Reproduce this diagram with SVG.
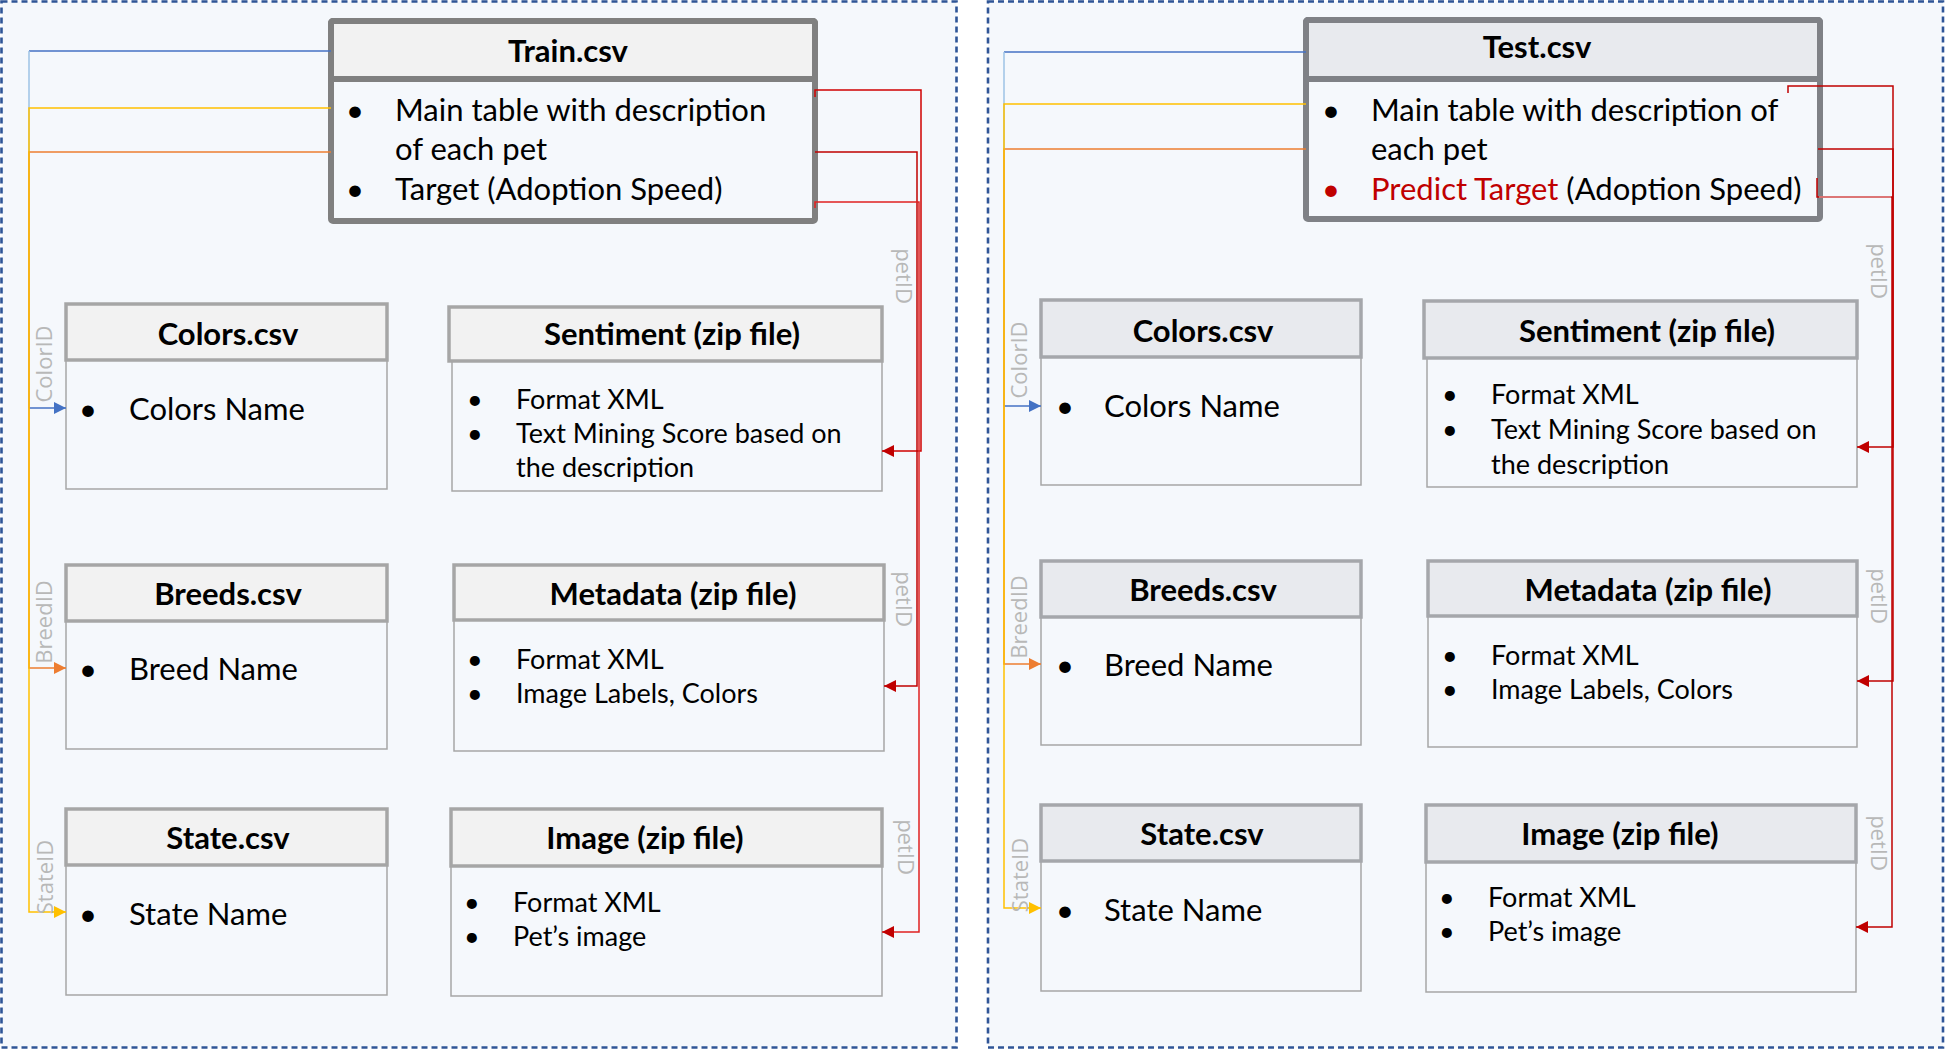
<svg xmlns="http://www.w3.org/2000/svg" width="1946" height="1050" viewBox="0 0 1946 1050">
<style>
.panel{fill:#f5f8fc;stroke:#2f5597;stroke-width:2.6;stroke-dasharray:6 4}
.bigL{fill:#f5f8fc;stroke:#808080;stroke-width:6}
.bigR{fill:#f5f8fc;stroke:#7f8186;stroke-width:6}
.hdL{fill:#f2f2f2;stroke:#808080;stroke-width:6}
.hdR{fill:#e8eaee;stroke:#7f8186;stroke-width:6}
.nb{fill:#f5f8fc;stroke:#a6a6a6;stroke-width:1.5}
.nhL{fill:#f2f2f2;stroke:#a6a6a6;stroke-width:3.5}
.nhR{fill:#e8eaee;stroke:#a5a7ab;stroke-width:3.5}
text{font-family:Lato,"Open Sans","Liberation Sans",sans-serif;fill:#000}
.ti{font-weight:bold;font-size:31px;text-anchor:middle}
.b{font-size:31px}
.s{font-size:27px}
.red{fill:#c00000}
.lab{font-family:"Open Sans","DejaVu Sans",sans-serif;font-size:22px;fill:#b8b8b8;text-anchor:middle}
.c{fill:none;stroke-width:1.5}
</style>
<defs>
<marker id="aB" markerUnits="userSpaceOnUse" markerWidth="13" markerHeight="13" refX="12" refY="6" orient="auto"><path d="M0,0 L12,6 L0,12 z" fill="#4472c4"/></marker>
<marker id="aO" markerUnits="userSpaceOnUse" markerWidth="13" markerHeight="13" refX="12" refY="6" orient="auto"><path d="M0,0 L12,6 L0,12 z" fill="#ed7d31"/></marker>
<marker id="aY" markerUnits="userSpaceOnUse" markerWidth="13" markerHeight="13" refX="12" refY="6" orient="auto"><path d="M0,0 L12,6 L0,12 z" fill="#ffc000"/></marker>
<marker id="aR" markerUnits="userSpaceOnUse" markerWidth="13" markerHeight="13" refX="12" refY="6" orient="auto"><path d="M0,0 L12,6 L0,12 z" fill="#c00000"/></marker>
</defs>

<rect class="panel" x="1.5" y="1.5" width="955" height="1046"/>
<rect class="panel" x="988" y="1.5" width="955" height="1046"/>

<!-- LEFT PANEL NODES -->
<g id="train">
<rect class="bigL" x="331" y="21" width="484" height="200" rx="2"/>
<rect class="hdL" x="331" y="21" width="484" height="58" rx="2"/>
<text class="ti" x="568" y="62">Train.csv</text>
<text class="b" x="346" y="121">•</text><text class="b" x="395" y="121">Main table with description</text>
<text class="b" x="395" y="160">of each pet</text>
<text class="b" x="346" y="200">•</text><text class="b" x="395" y="200">Target (Adoption Speed)</text>
</g>
<g id="colors-l">
<rect class="nb" x="66" y="304" width="321" height="185"/>
<rect class="nhL" x="66" y="304" width="321" height="56"/>
<text class="ti" x="228" y="345">Colors.csv</text>
<text class="b" x="79" y="420">•</text><text class="b" x="129" y="420">Colors Name</text>
</g>
<g id="sentiment-l">
<rect class="nb" x="452" y="361" width="430" height="130"/>
<rect class="nhL" x="449" y="307" width="433" height="54"/>
<text class="ti" x="672" y="345">Sentiment (zip file)</text>
<text class="s" x="467" y="409">•</text><text class="s" x="516" y="409">Format XML</text>
<text class="s" x="467" y="443">•</text><text class="s" x="516" y="443">Text Mining Score based on</text>
<text class="s" x="516" y="477">the description</text>
</g>
<g id="breeds-l">
<rect class="nb" x="66" y="565" width="321" height="184"/>
<rect class="nhL" x="66" y="565" width="321" height="56"/>
<text class="ti" x="228" y="605">Breeds.csv</text>
<text class="b" x="79" y="680">•</text><text class="b" x="129" y="680">Breed Name</text>
</g>
<g id="metadata-l">
<rect class="nb" x="454" y="620" width="430" height="131"/>
<rect class="nhL" x="454" y="565" width="430" height="55"/>
<text class="ti" x="673" y="605">Metadata (zip file)</text>
<text class="s" x="467" y="669">•</text><text class="s" x="516" y="669">Format XML</text>
<text class="s" x="467" y="703">•</text><text class="s" x="516" y="703">Image Labels, Colors</text>
</g>
<g id="state-l">
<rect class="nb" x="66" y="809" width="321" height="186"/>
<rect class="nhL" x="66" y="809" width="321" height="56"/>
<text class="ti" x="228" y="849">State.csv</text>
<text class="b" x="79" y="925">•</text><text class="b" x="129" y="925">State Name</text>
</g>
<g id="image-l">
<rect class="nb" x="451" y="866" width="431" height="130"/>
<rect class="nhL" x="451" y="809" width="431" height="57"/>
<text class="ti" x="645" y="849">Image (zip file)</text>
<text class="s" x="464" y="912">•</text><text class="s" x="513" y="912">Format XML</text>
<text class="s" x="464" y="946">•</text><text class="s" x="513" y="946">Pet’s image</text>
</g>

<!-- RIGHT PANEL NODES -->
<g id="test">
<rect class="bigR" x="1306" y="20" width="514" height="199" rx="2"/>
<rect class="hdR" x="1306" y="20" width="514" height="59" rx="2"/>
<text class="ti" x="1537" y="58">Test.csv</text>
<text class="b" x="1322" y="121">•</text><text class="b" x="1371" y="121">Main table with description of</text>
<text class="b" x="1371" y="160">each pet</text>
<text class="b red" x="1322" y="200">•</text><text class="b" x="1371" y="200"><tspan class="red">Predict Target</tspan> (Adoption Speed)</text>
</g>
<g id="colors-r">
<rect class="nb" x="1041" y="300" width="320" height="185"/>
<rect class="nhR" x="1041" y="300" width="320" height="57"/>
<text class="ti" x="1203" y="342">Colors.csv</text>
<text class="b" x="1056" y="417">•</text><text class="b" x="1104" y="417">Colors Name</text>
</g>
<g id="sentiment-r">
<rect class="nb" x="1427" y="358" width="430" height="129"/>
<rect class="nhR" x="1424" y="301" width="433" height="57"/>
<text class="ti" x="1647" y="342">Sentiment (zip file)</text>
<text class="s" x="1442" y="404">•</text><text class="s" x="1491" y="404">Format XML</text>
<text class="s" x="1442" y="439">•</text><text class="s" x="1491" y="439">Text Mining Score based on</text>
<text class="s" x="1491" y="474">the description</text>
</g>
<g id="breeds-r">
<rect class="nb" x="1041" y="561" width="320" height="184"/>
<rect class="nhR" x="1041" y="561" width="320" height="56"/>
<text class="ti" x="1203" y="601">Breeds.csv</text>
<text class="b" x="1056" y="676">•</text><text class="b" x="1104" y="676">Breed Name</text>
</g>
<g id="metadata-r">
<rect class="nb" x="1428" y="616" width="429" height="131"/>
<rect class="nhR" x="1428" y="561" width="429" height="55"/>
<text class="ti" x="1648" y="601">Metadata (zip file)</text>
<text class="s" x="1442" y="665">•</text><text class="s" x="1491" y="665">Format XML</text>
<text class="s" x="1442" y="699">•</text><text class="s" x="1491" y="699">Image Labels, Colors</text>
</g>
<g id="state-r">
<rect class="nb" x="1041" y="805" width="320" height="186"/>
<rect class="nhR" x="1041" y="805" width="320" height="56"/>
<text class="ti" x="1202" y="845">State.csv</text>
<text class="b" x="1056" y="921">•</text><text class="b" x="1104" y="921">State Name</text>
</g>
<g id="image-r">
<rect class="nb" x="1426" y="862" width="430" height="130"/>
<rect class="nhR" x="1426" y="805" width="430" height="57"/>
<text class="ti" x="1620" y="845">Image (zip file)</text>
<text class="s" x="1439" y="907">•</text><text class="s" x="1488" y="907">Format XML</text>
<text class="s" x="1439" y="941">•</text><text class="s" x="1488" y="941">Pet’s image</text>
</g>

<!-- CONNECTORS -->
<g id="connectors">
<path class="c" stroke="#4472c4" d="M331,51 H29"/>
<path class="c" stroke="#9dc3e6" d="M29,51 V408"/>
<path class="c" stroke="#4472c4" d="M29,408 H66" marker-end="url(#aB)"/>
<path class="c" stroke="#ed7d31" d="M331,152 H29 V668 H66" marker-end="url(#aO)"/>
<path class="c" stroke="#ffc000" d="M331,108 H29 V912 H66" marker-end="url(#aY)"/>
<path class="c" stroke="#d00000" d="M815,97 V90 H921 V451 H882" marker-end="url(#aR)"/>
<path class="c" stroke="#c00000" d="M815,152 H917 V686 H884" marker-end="url(#aR)"/>
<path class="c" stroke="#e02020" d="M815,208 V202 H919 V932 H882" marker-end="url(#aR)"/>

<path class="c" stroke="#4472c4" d="M1306,52 H1004"/>
<path class="c" stroke="#9dc3e6" d="M1004,52 V406"/>
<path class="c" stroke="#4472c4" d="M1004,406 H1041" marker-end="url(#aB)"/>
<path class="c" stroke="#ed7d31" d="M1306,149 H1004 V664 H1041" marker-end="url(#aO)"/>
<path class="c" stroke="#ffc000" d="M1306,104 H1004 V908 H1041" marker-end="url(#aY)"/>
<path class="c" stroke="#c00000" d="M1788,93 V86 H1893 V447 H1857" marker-end="url(#aR)"/>
<path class="c" stroke="#c00000" d="M1818,149 H1893 V681 H1857" marker-end="url(#aR)"/>
<path class="c" stroke="#c00000" d="M1817,178 V197 H1892 V927 H1856" marker-end="url(#aR)"/>
<path class="c" stroke="#e08a8a" d="M1819,197 H1891"/>

<text class="lab" transform="translate(52,364) rotate(-90)">ColorID</text>
<text class="lab" transform="translate(52,622) rotate(-90)">BreedID</text>
<text class="lab" transform="translate(53,877) rotate(-90)">StateID</text>
<text class="lab" transform="translate(896,276) rotate(90)">petID</text>
<text class="lab" transform="translate(896,599) rotate(90)">petID</text>
<text class="lab" transform="translate(898,847) rotate(90)">petID</text>

<text class="lab" transform="translate(1027,360) rotate(-90)">ColorID</text>
<text class="lab" transform="translate(1027,617) rotate(-90)">BreedID</text>
<text class="lab" transform="translate(1028,875) rotate(-90)">StateID</text>
<text class="lab" transform="translate(1871,271) rotate(90)">petID</text>
<text class="lab" transform="translate(1871,596) rotate(90)">petID</text>
<text class="lab" transform="translate(1871,843) rotate(90)">petID</text>
</g>
</svg>
